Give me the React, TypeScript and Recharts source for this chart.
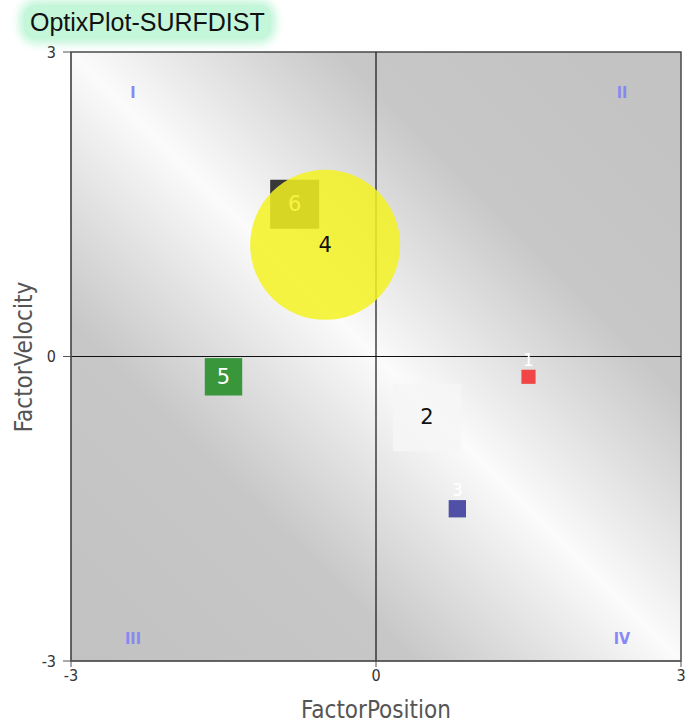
import React from "react";
import {
  ScatterChart,
  Scatter,
  XAxis,
  YAxis,
  ZAxis,
  ReferenceArea,
  ReferenceLine,
} from "recharts";

// point data
const pointIds = ["1", "2", "3", "4", "5", "6"];
const factorPosition = [1.5, 0.5, 0.8, -0.5, -1.5, -0.8];
const factorVelocity = [-0.2, -0.6, -1.5, 1.1, -0.2, 1.5];
const weights = [2, 46, 3, 225, 14, 24];
const markerKinds = ["square", "square", "square", "circle", "square", "square"];

const axisTicks = [-3, 0, 3];
const quadrantNames = ["I", "II", "III", "IV"];

// styles per point
const MARKER_STYLE: Record<string, { fill: string; opacity: number; text: string }> = {
  "1": { fill: "#f04646", opacity: 1, text: "#ffffff" },
  "2": { fill: "#f6f6f6", opacity: 0.85, text: "#111111" },
  "3": { fill: "#5050a6", opacity: 1, text: "#ffffff" },
  "4": { fill: "#f4f222", opacity: 0.85, text: "#111111" },
  "5": { fill: "#3a963a", opacity: 1, text: "#ffffff" },
  "6": { fill: "#383838", opacity: 1, text: "#ffffff" },
};

const COND = "'DejaVu Sans Condensed', 'DejaVu Sans', sans-serif";

const rows = pointIds.map((id, i) => ({
  id,
  x: factorPosition[i],
  y: factorVelocity[i],
  z: weights[i],
  kind: markerKinds[i],
}));

const Marker = (props: any) => {
  const { cx, cy, payload } = props;
  const s = props.width ?? 10 * Math.sqrt(payload.z);
  const st = MARKER_STYLE[payload.id];
  const big = s > 30;
  const label = (
    <text
      x={cx}
      y={big ? cy : cy - s / 2 - 4}
      textAnchor="middle"
      dominantBaseline={big ? "central" : "auto"}
      fill={st.text}
      fontSize={big ? 21 : 17}
      fontFamily="'DejaVu Sans', sans-serif"
    >
      {payload.id}
    </text>
  );
  if (payload.kind === "circle") {
    return (
      <g>
        <circle cx={cx} cy={cy} r={s / 2} fill={st.fill} fillOpacity={st.opacity} />
        {label}
      </g>
    );
  }
  return (
    <g>
      <rect x={cx - s / 2} y={cy - s / 2} width={s} height={s} fill={st.fill} fillOpacity={st.opacity} />
      {label}
    </g>
  );
};

const quadrantLabel = (name: string, idx: number) => (p: any) => {
  const vb = p.viewBox || {};
  const left = idx === 0 || idx === 2;
  const top = idx < 2;
  const x = left ? vb.x + 62 : vb.x + vb.width - 59;
  const y = top ? vb.y + 40 : vb.y + vb.height - 23;
  return (
    <text
      x={x}
      y={y}
      textAnchor="middle"
      dominantBaseline="central"
      fill="#8888f2"
      fontSize={16}
      fontWeight="bold"
      fontFamily={COND}
    >
      {name}
    </text>
  );
};

const quadrants = [
  { x1: -3, x2: 0, y1: 0, y2: 3 },
  { x1: 0, x2: 3, y1: 0, y2: 3 },
  { x1: -3, x2: 0, y1: -3, y2: 0 },
  { x1: 0, x2: 3, y1: -3, y2: 0 },
];

export default function App() {
  return (
    <div style={{ position: "absolute", left: 0, top: 0, width: 697, height: 725, background: "#fff" }}>
      <div
        style={{
          position: "absolute",
          left: 24,
          top: 5,
          padding: "2px 6px",
          fontFamily: "'Liberation Sans', Arial, sans-serif",
          fontSize: 25,
          color: "#111",
          background: "#c4f6da",
          borderRadius: 12,
          boxShadow: "0 0 8px 5px #c4f6da",
          lineHeight: "30px",
        }}
      >
        OptixPlot-SURFDIST
      </div>
      <ScatterChart width={697} height={725} margin={{ top: 52, right: 16, bottom: 34, left: 41 }}>
        <defs>
          <linearGradient id="surf" x1="1" y1="0" x2="0" y2="1">
            <stop offset="0" stopColor="#c2c2c2" />
            <stop offset="0.28" stopColor="#c7c7c7" />
            <stop offset="0.5" stopColor="#fbfbfb" />
            <stop offset="0.72" stopColor="#c7c7c7" />
            <stop offset="1" stopColor="#c2c2c2" />
          </linearGradient>
        </defs>
        <XAxis
          type="number"
          dataKey="x"
          domain={[-3, 3]}
          ticks={axisTicks}
          height={30}
          tickSize={6}
          tickMargin={3}
          tick={{ fill: "#333", fontSize: 16, fontFamily: COND }}
          stroke="#555"
          allowDataOverflow
        />
        <YAxis
          type="number"
          dataKey="y"
          domain={[-3, 3]}
          ticks={axisTicks}
          width={30}
          tickSize={8}
          tickMargin={7}
          tick={{ fill: "#333", fontSize: 16, fontFamily: COND }}
          stroke="#555"
          allowDataOverflow
        />
        <ZAxis type="number" dataKey="z" domain={[0, 225]} range={[0, (Math.PI * 150 * 150) / 4]} />
        <ReferenceArea x1={-3} x2={3} y1={-3} y2={3} fill="url(#surf)" fillOpacity={1} stroke="#4a4a4a" strokeWidth={1.5} />
        {quadrants.map((q, i) => (
          <ReferenceArea
            key={quadrantNames[i]}
            {...q}
            fill="none"
            fillOpacity={0}
            stroke="none"
            label={quadrantLabel(quadrantNames[i], i)}
          />
        ))}
        <ReferenceLine x={0} stroke="#111" strokeWidth={1.2} />
        <ReferenceLine y={0} stroke="#111" strokeWidth={1.2} />
        <Scatter data={rows.filter((r) => r.kind === "square")} shape={(p: any) => <Marker {...p} />} isAnimationActive={false} />
        <Scatter data={rows.filter((r) => r.kind === "circle")} shape={(p: any) => <Marker {...p} />} isAnimationActive={false} />
      </ScatterChart>
      <div
        style={{
          position: "absolute",
          left: 276,
          top: 696,
          width: 200,
          lineHeight: "28px",
          textAlign: "center",
          fontFamily: COND,
          fontSize: 24,
          color: "#555",
        }}
      >
        FactorPosition
      </div>
      <div
        style={{
          position: "absolute",
          left: 24 - 100,
          top: 357 - 14,
          width: 200,
          height: 28,
          lineHeight: "28px",
          textAlign: "center",
          transform: "rotate(-90deg)",
          fontFamily: COND,
          fontSize: 24,
          color: "#555",
        }}
      >
        FactorVelocity
      </div>
    </div>
  );
}
